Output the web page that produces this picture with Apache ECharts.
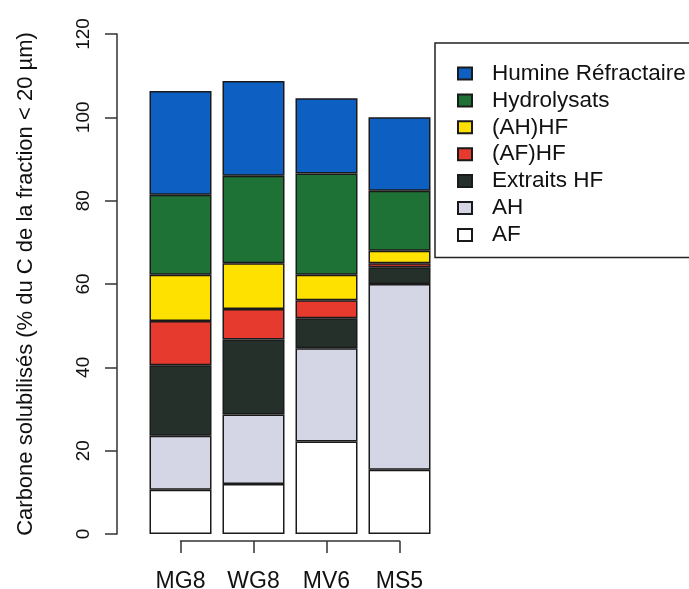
<!DOCTYPE html>
<html>
<head>
<meta charset="utf-8">
<script src="https://cdn.jsdelivr.net/npm/echarts@6/dist/echarts.min.js"></script>
<style>html,body{margin:0;padding:0;background:#fff}#c{width:689px;height:589px}</style>
</head>
<body>
<div id="c"></div>
<script>
const categories = ['MG8', 'WG8', 'MV6', 'MS5'];
const seriesNames = ['AF', 'AH', 'Extraits HF', '(AF)HF', '(AH)HF', 'Hydrolysats', 'Humine Réfractaire'];
const AF = [10.6, 12.0, 22.2, 15.4];
const AH = [13.0, 16.7, 22.4, 44.6];
const extraitsHF = [16.9, 18.0, 7.2, 4.0];
const AF_HF = [10.6, 7.3, 4.3, 1.0];
const AH_HF = [11.1, 11.0, 6.1, 3.0];
const hydrolysats = [19.2, 21.0, 24.3, 14.4];
const humine = [24.9, 22.7, 18.1, 17.6];
const yTicks = [0, 20, 40, 60, 80, 100, 120];
const colors = ['#ffffff', '#d5d6e5', '#243029', '#e63a2e', '#ffe100', '#1f7236', '#0d5fc2'];
const values = [AF, AH, extraitsHF, AF_HF, AH_HF, hydrolysats, humine];

const FONT = '"Liberation Sans", Arial, Helvetica, sans-serif';
const chart = echarts.init(document.getElementById('c'), null, {renderer: 'canvas'});

const series = seriesNames.map((n, i) => ({
  name: n,
  type: 'bar',
  stack: 'total',
  xAxisIndex: 0,
  yAxisIndex: 0,
  barWidth: 62,
  data: values[i],
  itemStyle: {color: colors[i], borderColor: '#1a1a1a', borderWidth: 1.5},
  emphasis: {disabled: true}
}));

chart.setOption({
  animation: false,
  backgroundColor: '#ffffff',
  textStyle: {fontFamily: FONT},
  grid: [
    {left: 144, right: 253, top: 34, bottom: 55, containLabel: false, outerBoundsMode: 'none'},
    {left: 180.5, right: 289.5, top: 34, bottom: 48, containLabel: false, outerBoundsMode: 'none'}
  ],
  xAxis: [
    {type: 'category', gridIndex: 0, data: categories,
     axisLine: {show: false}, axisTick: {show: false}, axisLabel: {show: false}, splitLine: {show: false}},
    {type: 'category', gridIndex: 1, data: categories, boundaryGap: false,
     axisLine: {show: true, lineStyle: {color: '#333', width: 1.5}},
     axisTick: {show: true, length: 12, lineStyle: {color: '#333', width: 1.5}},
     splitLine: {show: false},
     axisLabel: {show: true, margin: 29, fontSize: 23, color: '#111', fontFamily: FONT}}
  ],
  yAxis: [
    {type: 'value', gridIndex: 0, min: yTicks[0], max: yTicks[yTicks.length - 1], interval: 20,
     offset: 27,
     name: 'Carbone solubilisés (% du C de la fraction < 20 µm)',
     nameLocation: 'middle', nameGap: 80,
     nameTextStyle: {fontSize: 22, color: '#111', fontFamily: FONT},
     axisLine: {show: true, lineStyle: {color: '#333', width: 1.5}},
     axisTick: {show: true, length: 12, lineStyle: {color: '#333', width: 1.5}},
     axisLabel: {rotate: 90, margin: 24, fontSize: 19, color: '#111', fontFamily: FONT},
     splitLine: {show: false}},
    {type: 'value', gridIndex: 1, min: 0, max: 120, show: false, splitLine: {show: false}}
  ],
  legend: {
    data: seriesNames.slice().reverse(),
    orient: 'vertical',
    left: 435, top: 43,
    padding: [19, 60, 11, 22],
    borderColor: '#222', borderWidth: 1.5,
    icon: 'rect',
    itemWidth: 14, itemHeight: 12,
    itemGap: 3.9,
    selectedMode: false,
    textStyle: {fontSize: 22.5, lineHeight: 22, color: '#111', fontFamily: FONT, padding: [0, 0, 0, 15]}
  },
  series: series
});
</script>
</body>
</html>
